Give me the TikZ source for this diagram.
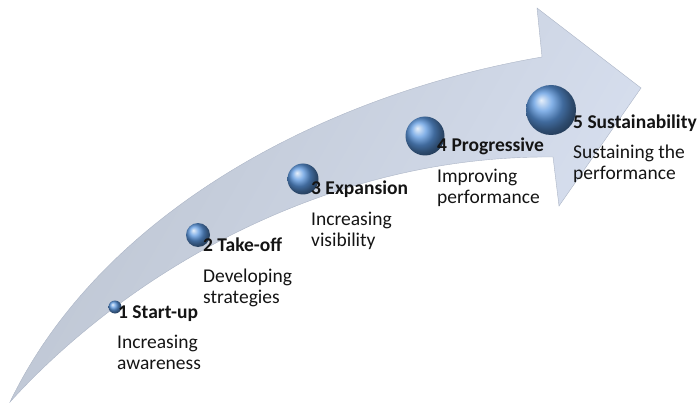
\documentclass[tikz,border=0pt]{standalone}
\usepackage{fontspec}
\setmainfont{Carlito}
\definecolor{arrowA}{RGB}{188,196,209}
\definecolor{arrowB}{RGB}{216,224,240}
\definecolor{arrowEdge}{RGB}{172,181,198}
\definecolor{ballblue}{RGB}{92,152,224}
\definecolor{txt}{RGB}{20,20,20}
\begin{document}
\begin{tikzpicture}[x=1pt,y=-1pt,
  ball/.style={circle,shading=ball,ball color=ballblue,inner sep=0pt,draw=none},
  title/.style={anchor=base west,inner sep=0pt,font=\fontsize{19.5}{21}\selectfont\bfseries,text=txt},
  desc/.style={anchor=base west,inner sep=0pt,align=left,font=\fontsize{19.5}{21}\selectfont,text=txt}]
\useasboundingbox (0,0) rectangle (700,403);
% big curved arrow
\path[left color=arrowA,right color=arrowB,shading angle=60,draw=arrowEdge,line width=0.4pt]
  (10,402) .. controls (100,215) and (320,95) .. (542,57)
  -- (537,8) -- (641,88) -- (559,206) -- (553,157)
  .. controls (330,155) and (130,270) .. (10,402) -- cycle;
% spheres
\node[ball,minimum size=13pt] (b1) at (115,307) {};
\node[ball,minimum size=24pt] (b2) at (198,235) {};
\node[ball,minimum size=31pt] (b3) at (303,179) {};
\node[ball,minimum size=39pt] (b4) at (425,136) {};
\node[ball,minimum size=50pt] (b5) at (551,110) {};
% labels (desc anchored at the baseline of its last line)
\node[title] (t1) at (118,318) {1 Start-up};
\node[desc]  (d1) at (117,369) {Increasing\\awareness};
\node[title] (t2) at (203,251) {2 Take-off};
\node[desc]  (d2) at (203,303) {Developing\\strategies};
\node[title] (t3) at (311,195) {3 Expansion};
\node[desc]  (d3) at (311,246) {Increasing\\visibility};
\node[title] (t4) at (437,152) {4 Progressive};
\node[desc]  (d4) at (437,204) {Improving\\performance};
\node[title] (t5) at (573,129) {5 Sustainability};
\node[desc]  (d5) at (573,180) {Sustaining the\\performance};
\end{tikzpicture}
\end{document}
